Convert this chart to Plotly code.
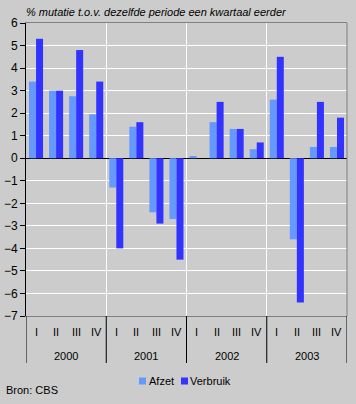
import plotly.graph_objects as go

years = ["2000", "2001", "2002", "2003"]
quarters = ["I", "II", "III", "IV"]
series_names = ["Afzet", "Verbruik"]
series_colors = ["#6699FF", "#3333FF"]
afzet = [3.4, 3.0, 2.75, 1.95, -1.3, 1.4, -2.4, -2.7, 0.1, 1.6, 1.3, 0.4, 2.6, -3.6, 0.5, 0.5]
verbruik = [5.3, 3.0, 4.8, 3.4, -4.0, 1.6, -2.9, -4.5, 0.0, 2.5, 1.3, 0.7, 4.5, -6.4, 2.5, 1.8]

n = len(afzet)
x = list(range(n))
nq = len(quarters)

W, H = 356, 404
L, R, T, B = 26, 9, 23, 88
pw, ph = W - L - R, H - T - B


def px_x(p):
    return (p - L) / pw


def px_y(p):
    return (H - B - p) / ph


fig = go.Figure()
for name, vals, col in zip(series_names, [afzet, verbruik], series_colors):
    fig.add_trace(go.Bar(x=x, y=vals, name=name, marker_color=col, marker_line_width=0,
                         showlegend=False, hoverinfo="skip"))

font = "Liberation Sans, Arial, sans-serif"
annotations = []
shapes = []
for i in range(n):
    annotations.append(dict(x=i, y=px_y(332), xref="x", yref="paper", text=quarters[i % nq],
                            showarrow=False, yanchor="middle", font=dict(size=11, color="black")))
for j, yr in enumerate(years):
    annotations.append(dict(x=j * nq + (nq - 1) / 2, y=px_y(356), xref="x", yref="paper", text=yr,
                            showarrow=False, yanchor="middle", font=dict(size=11, color="black")))
for j in range(len(years) + 1):
    shapes.append(dict(type="line", xref="x", yref="paper", x0=j * nq - 0.5, x1=j * nq - 0.5,
                       y0=0, y1=px_y(363), line=dict(color="black", width=1)))
shapes.append(dict(type="line", xref="paper", yref="paper", x0=1, x1=1, y0=0, y1=1,
                   line=dict(color="#808080", width=1)))

# legend (custom, compact like the original)
leg_sq = [139, 181]
leg_txt = [149, 190]
for k, name in enumerate(series_names):
    shapes.append(dict(type="rect", xref="paper", yref="paper",
                       x0=px_x(leg_sq[k]), x1=px_x(leg_sq[k] + 7),
                       y0=px_y(384.5), y1=px_y(377.5),
                       fillcolor=series_colors[k], line=dict(width=0)))
    annotations.append(dict(x=px_x(leg_txt[k]), y=px_y(381), xref="paper", yref="paper", text=name,
                            showarrow=False, xanchor="left", yanchor="middle", xshift=-2,
                            font=dict(size=11, color="black")))

annotations.append(dict(x=0, y=px_y(12), xref="paper", yref="paper",
                        text="<i>% mutatie t.o.v. dezelfde periode een kwartaal eerder</i>",
                        showarrow=False, xanchor="left", yanchor="middle", xshift=-2,
                        font=dict(size=11, color="black")))
annotations.append(dict(x=px_x(6), y=px_y(390), xref="paper", yref="paper", text="Bron: CBS",
                        showarrow=False, xanchor="left", yanchor="middle", xshift=-2,
                        font=dict(size=11, color="black")))

fig.update_layout(
    width=W, height=H,
    margin=dict(l=L, r=R, t=T, b=B, autoexpand=False),
    paper_bgcolor="#CCCCCC", plot_bgcolor="#CCCCCC",
    font=dict(family=font, size=11, color="black"),
    barmode="group", bargap=0.3, bargroupgap=0,
    showlegend=False,
    hovermode=False,
    xaxis=dict(range=[-0.5, n - 0.5], tickvals=[nq * k - 0.5 for k in range(1, len(years))],
               showticklabels=False, ticks="", showgrid=True, gridcolor="white", gridwidth=1,
               showline=True, linecolor="#808080", linewidth=1, mirror=True, zeroline=False,
               automargin=False),
    yaxis=dict(range=[-7, 6], dtick=1, tick0=0, showgrid=True, gridcolor="white", gridwidth=1,
               zeroline=True, zerolinecolor="black", zerolinewidth=1,
               showline=True, linecolor="black", linewidth=1, ticks="outside", ticklen=5,
               tickcolor="black", tickfont=dict(size=12), automargin=False),
    annotations=annotations, shapes=shapes,
)

fig.write_html("out.html", config={"displayModeBar": False},
               post_script="document.body.style.margin='0';document.body.style.background='#CCCCCC';")
